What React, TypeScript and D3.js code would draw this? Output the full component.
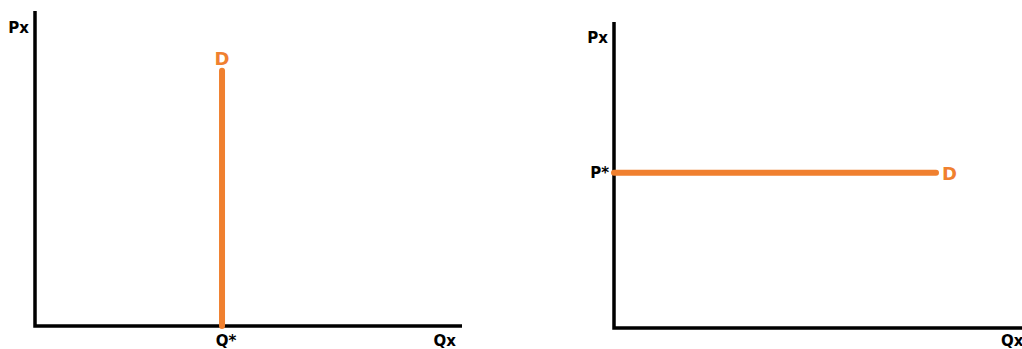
import React from "react";
import * as d3 from "d3";

// Data
const panelNames = ["perfectlyInelastic", "perfectlyElastic"];
const axisLabels = ["Px", "Qx"];
const equilibriumLabels = ["Q*", "P*"];
const curveLabel = "D";
// Left panel: vertical demand at Q*
const inelasticQ = [4.38, 4.38];
const inelasticP = [0, 8.1];
// Right panel: horizontal demand at P*
const elasticQ = [0, 7.74];
const elasticP = [5.07, 5.07];

const ORANGE = "#F0802F";
const FONT = "DejaVu Sans, Verdana, sans-serif";

export default function App() {
  const W = 1022, H = 349;
  // Left scales
  const xL = d3.scaleLinear().domain([0, 10]).range([35, 462]);
  const yL = d3.scaleLinear().domain([0, 10]).range([326, 11]);
  // Right scales
  const xR = d3.scaleLinear().domain([0, 10]).range([614, 1030]);
  const yR = d3.scaleLinear().domain([0, 10]).range([328, 22]);

  const line = (xs: number[], ys: number[], sx: any, sy: any) =>
    d3.line<number>().x((_, i) => sx(xs[i])).y((_, i) => sy(ys[i]))(xs);

  return (
    <svg width={W} height={H} style={{ position: "absolute", left: 0, top: 0, background: "#fff" }}
      fontFamily={FONT} fontWeight="bold">
      {/* Left panel */}
      <g data-panel={panelNames[0]}>
        <path d={`M${xL(0)},${yL(10)}V${yL(0)}H${xL(10)}`} fill="none" stroke="#000" strokeWidth={3.5} />
        <text x={xL(0) - 6} y={yL(10) + 22} textAnchor="end" fontSize={15}>{axisLabels[0]}</text>
        <text x={xL(10) - 6} y={yL(0) + 20} textAnchor="end" fontSize={15}>{axisLabels[1]}</text>
        <path d={line(inelasticQ, inelasticP, xL, yL) as string} stroke={ORANGE} strokeWidth={6} strokeLinecap="round" fill="none" />
        <text x={xL(inelasticQ[0])} y={yL(inelasticP[1]) - 6} textAnchor="middle" fontSize={18} fill={ORANGE}>{curveLabel}</text>
        <text x={xL(inelasticQ[0]) + 4} y={yL(0) + 20} textAnchor="middle" fontSize={15}>{equilibriumLabels[0]}</text>
      </g>
      {/* Right panel */}
      <g data-panel={panelNames[1]}>
        <path d={`M${xR(0)},${yR(10)}V${yR(0)}H${xR(10)}`} fill="none" stroke="#000" strokeWidth={3.5} />
        <text x={xR(0) - 6} y={yR(10) + 21} textAnchor="end" fontSize={15}>{axisLabels[0]}</text>
        <text x={1001} y={yR(0) + 18} textAnchor="start" fontSize={15}>{axisLabels[1]}</text>
        <path d={line(elasticQ, elasticP, xR, yR) as string} stroke={ORANGE} strokeWidth={6} strokeLinecap="round" fill="none" />
        <text x={xR(elasticQ[1]) + 6} y={yR(elasticP[0]) + 7} textAnchor="start" fontSize={18} fill={ORANGE}>{curveLabel}</text>
        <text x={xR(0) - 5} y={yR(elasticP[0]) + 5} textAnchor="end" fontSize={15}>{equilibriumLabels[1]}</text>
      </g>
    </svg>
  );
}
